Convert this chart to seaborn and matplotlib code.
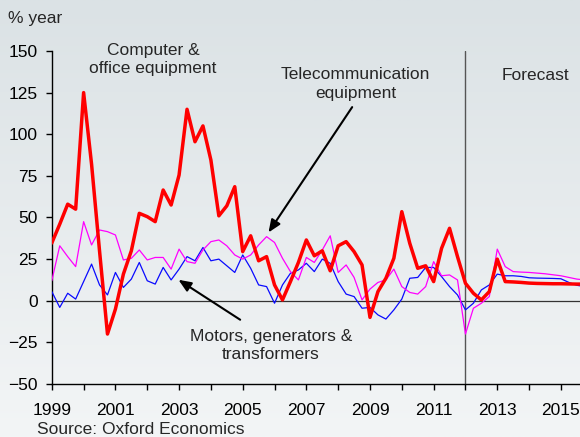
import numpy as np
import pandas as pd
import seaborn as sns
import matplotlib
matplotlib.use("Agg")
import matplotlib.pyplot as plt

# quarterly growth, % year, 1999Q1 .. 2015Q4
computer = [34.7, 46, 58, 55, 125, 82, 30, -20, -5, 16, 30, 52.5, 50.5, 47.5,
            66.5, 57.5, 75.5, 115, 95.5, 105, 84.5, 51, 57, 68.5, 29.5, 39, 24,
            26.5, 9.5, 0.5, 11.5, 23, 36.5, 27, 30, 18, 33, 35.5, 29.5, 21.5,
            -10, 5.5, 13.5, 25.5, 53.5, 34.5, 19.5, 21, 11.5, 31.5, 43.5, 26.5,
            10.5, 4.5, 0.5, 5.5, 25, 11.5, 11.3, 11, 10.6, 10.4, 10.3, 10.2,
            10.2, 10.1, 10, 10]
telecom = [12, 33, 26.5, 20.5, 47.5, 33.5, 42.5, 41.5, 39.5, 24.5, 25.5, 30.5,
           24.5, 26, 26, 19, 31, 23.5, 22.5, 30.5, 35.5, 36.5, 33, 27.5, 25,
           27.5, 33.5, 38.5, 35, 25.5, 17.5, 12.5, 26, 23, 30.5, 39, 17, 21.5,
           14, 0.5, 7, 11, 12.5, 19, 8.5, 5, 4, 8.5, 23.5, 15, 15.5, 12.5, -20,
           -4.5, -1.5, 2.5, 31, 20.5, 17.5, 17.2, 17, 16.6, 16.2, 15.6, 15, 14,
           13, 12.5]
motors = [5.5, -4, 4.5, 1, 11.5, 22, 9.5, 3.5, 17, 8, 13, 23, 12, 10, 20, 12.5,
          19, 26.5, 24, 32, 24, 25, 21, 17, 27.5, 19.5, 9.5, 8.5, -1.5, 9.5,
          16.5, 18.5, 22.5, 17.5, 25, 22.5, 11.5, 4, 2.5, -4.5, -4, -8.5, -11,
          -5.5, 1, 13.5, 14, 20, 20, 14.5, 8.5, 3.5, -5.5, -1.5, 6.5, 9.5, 16,
          15, 15, 14.6, 13.8, 13.6, 13.5, 13.4, 13.2, 11, 9.3, 8.5]

quarters = 1999 + np.arange(len(computer)) / 4
forecast_start = 2012
year_ticks = list(range(1999, 2016))
year_labels = [str(y) if y % 2 == 1 else "" for y in year_ticks]
y_ticks = list(range(-50, 151, 25))

df = pd.DataFrame({"t": quarters, "computer": computer,
                   "telecom": telecom, "motors": motors})

sns.set_style("ticks")
plt.rcParams["font.family"] = ["Liberation Sans", "DejaVu Sans"]
plt.rcParams["font.size"] = 12.5

fig = plt.figure(figsize=(5.8, 4.37), dpi=100)

# soft grey-blue background gradient
bg = fig.add_axes([0, 0, 1, 1], zorder=-1)
grad = np.linspace(0, 1, 256).reshape(-1, 1)
cmap = matplotlib.colors.LinearSegmentedColormap.from_list(
    "bg", ["#dbe2e5", "#f3f5f6"])
bg.imshow(grad, aspect="auto", cmap=cmap, extent=[0, 1, 0, 1])
bg.axis("off")

ax = fig.add_axes([0.0893, 0.1213, 0.9107, 0.762])
ax.set_facecolor("none")

ax.axhline(0, color="#333333", lw=0.9, zorder=1)
ax.axvline(forecast_start, color="#555555", lw=1.0, zorder=1)

sns.lineplot(data=df, x="t", y="motors", ax=ax, color="#0a0aff", lw=0.9,
             zorder=3)
sns.lineplot(data=df, x="t", y="telecom", ax=ax, color="#ff00ff", lw=0.9,
             zorder=3)
sns.lineplot(data=df, x="t", y="computer", ax=ax, color="#ff0000", lw=2.5,
             zorder=4)

ax.set_xlim(1999, 2015.6)
ax.set_ylim(-50, 150)
ax.set_xticks(year_ticks)
ax.set_xticklabels(year_labels)
ax.set_yticks(y_ticks)
ax.set_xlabel("")
ax.set_ylabel("")
for s in ["top", "right"]:
    ax.spines[s].set_visible(False)
for s in ["left", "bottom"]:
    ax.spines[s].set_color("black")
    ax.spines[s].set_linewidth(1.0)
ax.tick_params(axis="y", direction="out", length=4, width=1, pad=6,
               labelsize=12.5, colors="black")
ax.tick_params(axis="x", direction="out", length=4, width=1, pad=10,
               labelsize=12.5, colors="black")

ax.text(2002.18, 144.8, "Computer &\noffice equipment", ha="center",
        va="center", linespacing=1.3)
ax.text(2008.54, 130, "Telecommunication\nequipment", ha="center",
        va="center", linespacing=1.3)
ax.text(2005.89, -27, "Motors, generators &\ntransformers", ha="center",
        va="center", linespacing=1.3)
ax.text(2014.19, 135, "Forecast", ha="center", va="center")

arrow = dict(arrowstyle="-|>,head_length=0.6,head_width=0.25", color="black",
             lw=1.5, shrinkA=0, shrinkB=0)
ax.annotate("", xy=(2005.81, 41), xytext=(2008.44, 116.3), arrowprops=arrow)
ax.annotate("", xy=(2002.98, 12.6), xytext=(2004.92, -11.4),
            arrowprops=arrow)

fig.text(8 / 580, 1 - 18 / 437, "% year", ha="left", va="center")
fig.text(37 / 580, 1 - 429 / 437, "Source: Oxford Economics", ha="left",
         va="center")

fig.savefig("out.png", dpi=100)
